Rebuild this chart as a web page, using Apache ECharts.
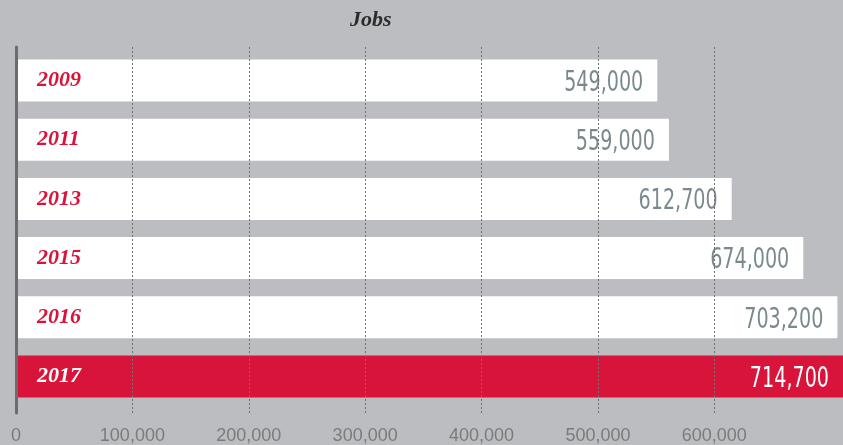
<!DOCTYPE html>
<html>
<head>
<meta charset="utf-8">
<script src="https://cdn.jsdelivr.net/npm/echarts@6/dist/echarts.min.js"></script>
<style>
  html, body { margin: 0; padding: 0; background: #bcbdc1; }
  #chart { width: 843px; height: 445px; }
</style>
</head>
<body>
<div id="chart"></div>
<script>
const years = ["2009", "2011", "2013", "2015", "2016", "2017"];
const jobs = [549000, 559000, 612700, 674000, 703200, 714700];
const highlightYear = "2017";
const xTicks = [0, 100000, 200000, 300000, 400000, 500000, 600000];

const red = "#d8143b";
const fmt = v => v.toLocaleString("en-US");

let chart = echarts.init(document.getElementById("chart"));

let option = {
  backgroundColor: "#bcbdc1",
  animation: false,
  title: {
    text: "Jobs",
    left: 345,
    top: 4,
    textStyle: {
      fontFamily: "Liberation Serif",
      fontStyle: "italic",
      fontWeight: "bold",
      fontSize: 22,
      color: "#2b2b2b"
    }
  },
  grid: [
    // bars
    { left: 16, top: 51, width: 827, height: 355 },
    // grid lines, x labels and left rule
    { left: 16, top: 47, width: 827, height: 366 }
  ],
  xAxis: [
    {
      gridIndex: 0,
      type: "value",
      min: 0,
      max: 708000,
      interval: 100000,
      show: false
    },
    {
      gridIndex: 1,
      type: "value",
      min: 0,
      max: 708000,
      interval: 100000,
      z: 5,
      axisLine: { show: false },
      axisTick: { show: false },
      axisLabel: {
        margin: 14,
        color: "#7b7b7b",
        fontFamily: "Liberation Sans",
        fontSize: 18,
        formatter: v => (xTicks.includes(v) ? fmt(v) : "")
      },
      splitLine: {
        show: true,
        lineStyle: {
          type: [2, 2],
          width: 1,
          color: ["transparent", "#707070", "#707070", "#707070", "#707070", "#707070", "#707070", "transparent", "transparent"]
        }
      }
    }
  ],
  yAxis: [
    {
      gridIndex: 0,
      type: "category",
      inverse: true,
      data: years,
      z: 10,
      axisLine: { show: false },
      axisTick: { show: false },
      axisLabel: {
        inside: true,
        margin: 21,
        formatter: v => (v === highlightYear ? "{hi|" + v + "}" : "{lo|" + v + "}"),
        rich: {
          lo: { color: red, fontFamily: "Liberation Serif", fontStyle: "italic", fontWeight: "bold", fontSize: 22 },
          hi: { color: "#ffffff", fontFamily: "Liberation Serif", fontStyle: "italic", fontWeight: "bold", fontSize: 22 }
        }
      }
    },
    {
      gridIndex: 1,
      type: "category",
      data: years,
      z: 6,
      axisLine: { show: true, lineStyle: { color: "#6b6b6b", width: 3 } },
      axisTick: { show: false },
      axisLabel: { show: false }
    }
  ],
  series: [
    {
      type: "bar",
      xAxisIndex: 0,
      yAxisIndex: 0,
      barWidth: 42,
      z: 2,
      data: jobs.map((v, i) => ({
        value: v,
        itemStyle: { color: years[i] === highlightYear ? red : "#ffffff" }
      }))
    },
    {
      // value labels, condensed by horizontal scaling
      type: "custom",
      xAxisIndex: 0,
      yAxisIndex: 0,
      z: 3,
      clip: false,
      data: jobs.map((v, i) => [v, i]),
      encode: { x: 0, y: 1 },
      renderItem: (params, api) => {
        const v = api.value(0);
        const i = api.value(1);
        const pt = api.coord([Math.min(v, 708000), i]);
        return {
          type: "text",
          x: pt[0] - 14,
          y: pt[1] + 3,
          scaleX: 0.76,
          style: {
            text: fmt(v),
            align: "right",
            verticalAlign: "middle",
            fontFamily: "DejaVu Sans Condensed",
            fontSize: 28,
            fill: years[i] === highlightYear ? "#ffffff" : "#7a898d"
          }
        };
      }
    }
  ]
};

chart.setOption(option);
</script>
</body>
</html>
